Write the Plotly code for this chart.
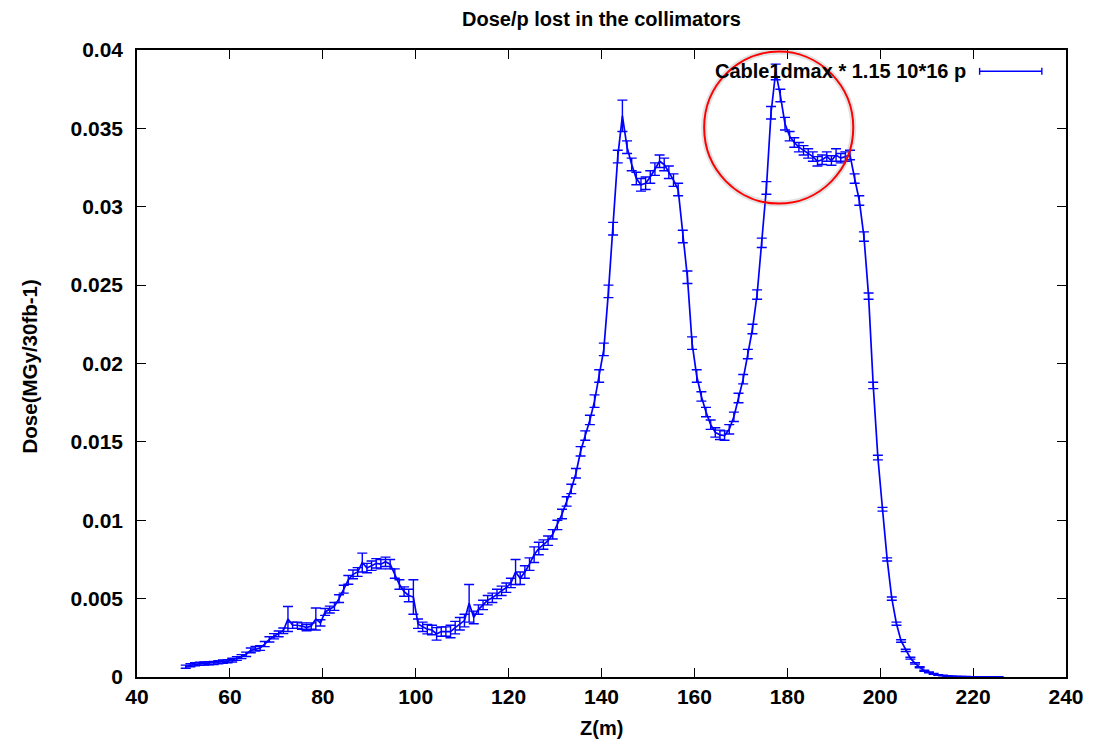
import plotly.graph_objects as go

# ---- data ----
z_m = [50.5, 51.5, 52.5, 53.5, 54.5, 55.5, 56.5, 57.5, 58.5, 59.5,
       60.5, 61.5, 62.5, 63.5, 64.5, 65.5, 66.5, 67.5, 68.5, 69.5,
       70.5, 71.5, 72.5, 73.5, 74.5, 75.5, 76.5, 77.5, 78.5, 79.5,
       80.5, 81.5, 82.5, 83.5, 84.5, 85.5, 86.5, 87.5, 88.5, 89.5,
       90.5, 91.5, 92.5, 93.5, 94.5, 95.5, 96.5, 97.5, 98.5, 99.5,
       100.5, 101.5, 102.5, 103.5, 104.5, 105.5, 106.5, 107.5, 108.5, 109.5,
       110.5, 111.5, 112.5, 113.5, 114.5, 115.5, 116.5, 117.5, 118.5, 119.5,
       120.5, 121.5, 122.5, 123.5, 124.5, 125.5, 126.5, 127.5, 128.5, 129.5,
       130.5, 131.5, 132.5, 133.5, 134.5, 135.5, 136.5, 137.5, 138.5, 139.5,
       140.5, 141.5, 142.5, 143.5, 144.5, 145.5, 146.5, 147.5, 148.5, 149.5,
       150.5, 151.5, 152.5, 153.5, 154.5, 155.5, 156.5, 157.5, 158.5, 159.5,
       160.5, 161.5, 162.5, 163.5, 164.5, 165.5, 166.5, 167.5, 168.5, 169.5,
       170.5, 171.5, 172.5, 173.5, 174.5, 175.5, 176.5, 177.5, 178.5, 179.5,
       180.5, 181.5, 182.5, 183.5, 184.5, 185.5, 186.5, 187.5, 188.5, 189.5,
       190.5, 191.5, 192.5, 193.5, 194.5, 195.5, 196.5, 197.5, 198.5, 199.5,
       200.5, 201.5, 202.5, 203.5, 204.5, 205.5, 206.5, 207.5, 208.5, 209.5,
       210.5, 211.5, 212.5, 213.5, 214.5, 215.5, 216.5, 217.5, 218.5, 219.5,
       220.5, 221.5, 222.5, 223.5, 224.5, 225.5]

dose = [0.00066, 0.00075, 0.00081, 0.00084, 0.00086, 0.00088, 0.00090, 0.00094, 0.00098, 0.00101,
        0.00108, 0.00118, 0.00130, 0.00145, 0.00170, 0.00180, 0.00185, 0.00210, 0.00240, 0.00260,
        0.00275, 0.00295, 0.00370, 0.00330, 0.00330, 0.00325, 0.00315, 0.00325, 0.00370, 0.00345,
        0.00415, 0.00430, 0.00450, 0.00500, 0.00560, 0.00620, 0.00655, 0.00670, 0.00730, 0.00695,
        0.00710, 0.00725, 0.00720, 0.00735, 0.00720, 0.00660, 0.00590, 0.00545, 0.00520, 0.00510,
        0.00340, 0.00320, 0.00305, 0.00300, 0.00275, 0.00290, 0.00290, 0.00290, 0.00315, 0.00340,
        0.00360, 0.00470, 0.00380, 0.00430, 0.00460, 0.00490, 0.00505, 0.00530, 0.00550, 0.00570,
        0.00600, 0.00670, 0.00630, 0.00670, 0.00720, 0.00780, 0.00820, 0.00845, 0.00870, 0.00910,
        0.00970, 0.01040, 0.01120, 0.01200, 0.01300, 0.01440, 0.01540, 0.01640, 0.01760, 0.01920,
        0.02090, 0.02460, 0.02860, 0.03320, 0.03580, 0.03380, 0.03270, 0.03180, 0.03140, 0.03150,
        0.03190, 0.03240, 0.03290, 0.03270, 0.03220, 0.03170, 0.03110, 0.02810, 0.02550, 0.02130,
        0.01920, 0.01790, 0.01690, 0.01610, 0.01560, 0.01545, 0.01540, 0.01580, 0.01660, 0.01780,
        0.01900, 0.02060, 0.02220, 0.02440, 0.02770, 0.03120, 0.03600, 0.03860, 0.03710, 0.03530,
        0.03450, 0.03410, 0.03380, 0.03360, 0.03340, 0.03320, 0.03290, 0.03300, 0.03320, 0.03295,
        0.03330, 0.03310, 0.03320, 0.03330, 0.03180, 0.03040, 0.02810, 0.02430, 0.01860, 0.01400,
        0.01070, 0.00750, 0.00500, 0.00340, 0.00230, 0.00170, 0.00120, 0.00087, 0.00062, 0.00040,
        0.00030, 0.00020, 0.00013, 0.00009, 0.00006, 0.00004, 0.00003, 0.00002, 0.00002, 0.00001,
        0.00001, 0.00001, 0.00001, 0.00001, 0.00001, 0.00001]

dose_err = [0.00010, 0.00010, 0.00010, 0.00010, 0.00010, 0.00010, 0.00010, 0.00010, 0.00010, 0.00010,
            0.00012, 0.00012, 0.00013, 0.00014, 0.00015, 0.00015, 0.00015, 0.00016, 0.00017, 0.00017,
            0.00018, 0.00018, 0.00080, 0.00020, 0.00020, 0.00020, 0.00020, 0.00020, 0.00070, 0.00020,
            0.00022, 0.00022, 0.00025, 0.00025, 0.00025, 0.00028, 0.00028, 0.00028, 0.00060, 0.00030,
            0.00030, 0.00030, 0.00030, 0.00030, 0.00030, 0.00030, 0.00030, 0.00030, 0.00040, 0.00110,
            0.00030, 0.00030, 0.00030, 0.00030, 0.00040, 0.00030, 0.00030, 0.00040, 0.00040, 0.00040,
            0.00040, 0.00120, 0.00040, 0.00030, 0.00030, 0.00030, 0.00030, 0.00030, 0.00030, 0.00030,
            0.00030, 0.00080, 0.00040, 0.00040, 0.00040, 0.00050, 0.00040, 0.00030, 0.00030, 0.00030,
            0.00030, 0.00030, 0.00030, 0.00030, 0.00030, 0.00030, 0.00030, 0.00030, 0.00040, 0.00040,
            0.00040, 0.00040, 0.00040, 0.00040, 0.00100, 0.00040, 0.00040, 0.00040, 0.00040, 0.00040,
            0.00040, 0.00040, 0.00040, 0.00040, 0.00040, 0.00040, 0.00040, 0.00040, 0.00040, 0.00040,
            0.00040, 0.00030, 0.00030, 0.00030, 0.00030, 0.00030, 0.00030, 0.00030, 0.00030, 0.00030,
            0.00030, 0.00030, 0.00030, 0.00030, 0.00030, 0.00040, 0.00040, 0.00050, 0.00040, 0.00040,
            0.00030, 0.00030, 0.00030, 0.00030, 0.00030, 0.00030, 0.00030, 0.00030, 0.00030, 0.00030,
            0.00040, 0.00030, 0.00030, 0.00030, 0.00030, 0.00030, 0.00030, 0.00020, 0.00020, 0.00015,
            0.00012, 0.00010, 0.00010, 0.00010, 0.00008, 0.00007, 0.00006, 0.00005, 0.00004, 0.00003,
            0.00003, 0.00002, 0.00002, 0.00002, 0.00001, 0.00001, 0.00001, 0.00001, 0.00001, 0.00001,
            0.00001, 0.00001, 0.00001, 0.00001, 0.00001, 0.00001]

x_ticks = [40, 60, 80, 100, 120, 140, 160, 180, 200, 220, 240]
y_ticks = [0, 0.005, 0.01, 0.015, 0.02, 0.025, 0.03, 0.035, 0.04]
y_tick_text = ["0", "0.005", "0.01", "0.015", "0.02", "0.025", "0.03", "0.035", "0.04"]

series_name = "Cable1dmax * 1.15 10*16 p"
title_text = "Dose/p lost in the collimators"
x_title = "Z(m)"
y_title = "Dose(MGy/30fb-1)"

# highlight circle (data coords)
circle_x = [162.1, 194.2]
circle_y = [0.0302, 0.0399]

assert len(z_m) == len(dose) == len(dose_err)

FONT = "Liberation Sans, Arial, Helvetica, sans-serif"
BLUE = "#0000ff"

fig = go.Figure()
fig.add_trace(go.Scatter(
    x=z_m, y=dose, mode="lines", name=series_name,
    line=dict(color=BLUE, width=1.7),
    error_y=dict(type="data", array=dose_err, visible=True,
                 color=BLUE, thickness=1.4, width=5),
    showlegend=False,
))

axis_common = dict(
    showline=True, linecolor="black", linewidth=1.5, mirror="ticks",
    ticks="inside", ticklen=9, tickwidth=1.2, tickcolor="black",
    showgrid=False, zeroline=False,
    tickfont=dict(family=FONT, size=21, color="black", weight="bold"),
)

fig.update_xaxes(range=[40, 240], tickvals=x_ticks, ticklabelstandoff=0, **axis_common)
fig.update_yaxes(range=[0, 0.04], tickvals=y_ticks, ticktext=y_tick_text,
                 ticklabelstandoff=8, **axis_common)

# highlight circle with soft shadow
fig.add_shape(type="circle", xref="x", yref="y",
              x0=circle_x[0], x1=circle_x[1], y0=circle_y[0], y1=circle_y[1],
              line=dict(color="rgba(120,120,120,0.22)", width=6), layer="above")
fig.add_shape(type="circle", xref="x", yref="y",
              x0=circle_x[0], x1=circle_x[1], y0=circle_y[0], y1=circle_y[1],
              line=dict(color="#ff0000", width=2), layer="above")

# legend (gnuplot style: text then sample on the right)
leg_y = 0.966
fig.add_annotation(text=series_name, xref="paper", yref="paper",
                   x=0.894, y=leg_y, xanchor="right", yanchor="middle",
                   showarrow=False,
                   font=dict(family=FONT, size=20, color="black", weight="bold"))
fig.add_shape(type="line", xref="paper", yref="paper",
              x0=0.907, x1=0.974, y0=leg_y, y1=leg_y,
              line=dict(color=BLUE, width=1.6))
for xe in (0.907, 0.974):
    fig.add_shape(type="line", xref="paper", yref="paper",
                  x0=xe, x1=xe, y0=leg_y - 0.0055, y1=leg_y + 0.0055,
                  line=dict(color=BLUE, width=1.4))

# titles as annotations for precise placement
fig.add_annotation(text=title_text, xref="paper", yref="paper", x=0.5, y=1,
                   yshift=31, xanchor="center", yanchor="middle", showarrow=False,
                   font=dict(family=FONT, size=20, color="black", weight="bold"))
fig.add_annotation(text=x_title, xref="paper", yref="paper", x=0.5, y=0,
                   yshift=-51, xanchor="center", yanchor="middle", showarrow=False,
                   font=dict(family=FONT, size=20, color="black", weight="bold"))
fig.add_annotation(text=y_title, xref="paper", yref="paper", x=0, y=0.5,
                   xshift=-108, yshift=-3, xanchor="center", yanchor="middle",
                   textangle=-90, showarrow=False,
                   font=dict(family=FONT, size=20.5, color="black", weight="bold"))

fig.update_layout(
    width=1096, height=744,
    margin=dict(l=137, r=24, t=50, b=67),
    paper_bgcolor="white", plot_bgcolor="white",
    showlegend=False,
)

fig.write_html("out.html")
